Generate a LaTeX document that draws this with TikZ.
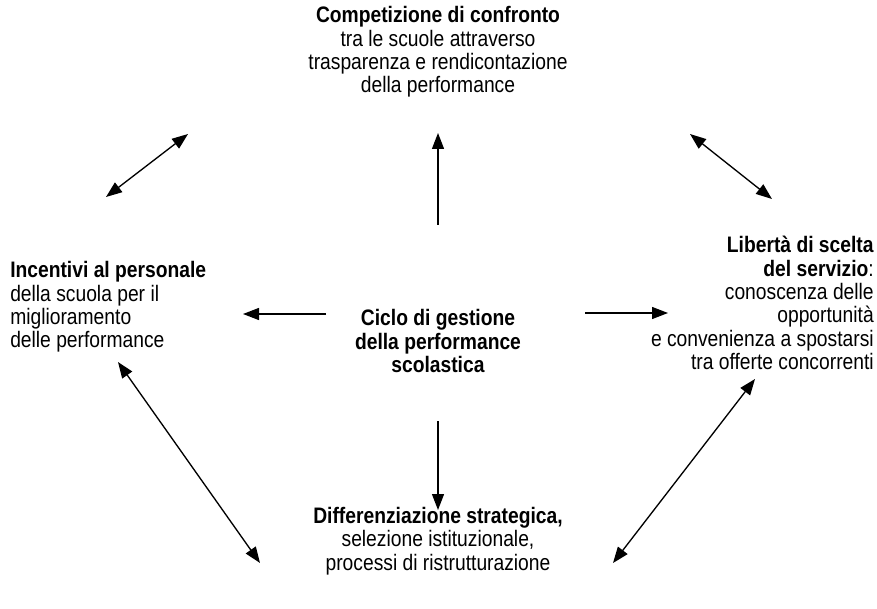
\documentclass[tikz,border=0pt]{standalone}
\usepackage{fontspec}
\setmainfont{Liberation Sans}[FakeStretch=0.86]
\usetikzlibrary{arrows.meta}
\begin{document}
\begin{tikzpicture}[x=0.75pt,y=-0.75pt,
  testo/.style={inner sep=0pt, font=\fontsize{16.8}{17.5}\selectfont},
  freccia/.style={draw, line width=1pt, -{Triangle[length=12pt,width=9pt]}},
  doppia/.style={draw, line width=1pt, {Triangle[length=12pt,width=9pt]}-{Triangle[length=12pt,width=9pt]}}]
\useasboundingbox (0,0) rectangle (877,609);
% blocchi di testo
\node[testo, align=center] (ciclo) at (438,341) {\textbf{Ciclo di gestione}\\\textbf{della performance}\\\textbf{scolastica}};
\node[testo, align=center] (comp) at (438,52) {\textbf{Competizione di confronto}\\tra le scuole attraverso\\trasparenza e rendicontazione\\della performance};
\node[testo, align=left, anchor=west] (incent) at (10,307) {\textbf{Incentivi al personale}\\della scuola per il\\miglioramento\\delle performance};
\node[testo, align=right, anchor=east] (liberta) at (874,303) {\textbf{Libertà di scelta}\\\textbf{del servizio}:\\conoscenza delle\\opportunità\\e convenienza a spostarsi\\tra offerte concorrenti};
\node[testo, align=center] (diff) at (438,541) {\textbf{Differenziazione strategica,}\\selezione istituzionale,\\processi di ristrutturazione};
% estremi delle frecce
\coordinate (su0) at (438,225); \coordinate (su1) at (438,133);
\coordinate (sx0) at (326,314); \coordinate (sx1) at (243,314);
\coordinate (dx0) at (585,313); \coordinate (dx1) at (668,313);
\coordinate (giu0) at (438,421); \coordinate (giu1) at (438,510);
\coordinate (a1) at (106,197); \coordinate (a2) at (188,134);
\coordinate (b1) at (690,134); \coordinate (b2) at (772,199);
\coordinate (c1) at (118,362); \coordinate (c2) at (260,563);
\coordinate (d1) at (755,379); \coordinate (d2) at (613,563);
% frecce
\path[freccia] (su0) -- (su1);
\path[freccia] (sx0) -- (sx1);
\path[freccia] (dx0) -- (dx1);
\path[freccia] (giu0) -- (giu1);
\path[doppia] (a1) -- (a2);
\path[doppia] (b1) -- (b2);
\path[doppia] (c1) -- (c2);
\path[doppia] (d1) -- (d2);
\end{tikzpicture}
\end{document}
